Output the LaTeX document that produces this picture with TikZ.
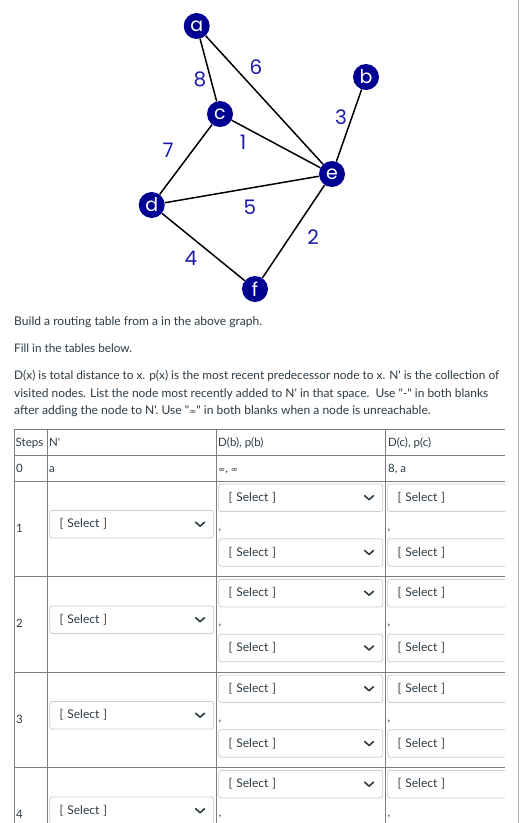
\documentclass[tikz,border=0pt]{standalone}
\usepackage{fontspec}
\setmainfont{Lato}[Ligatures=TeXOff]
\newfontfamily\pop{Poppins}
\newfontfamily\dv{DejaVu Sans}
\definecolor{navy}{RGB}{0,0,145}
\definecolor{lblue}{RGB}{25,25,170}
\definecolor{tgray}{RGB}{125,125,125}
\definecolor{selgray}{RGB}{205,205,205}
\definecolor{txt}{RGB}{45,59,69}
\newsavebox\fitbox
\newcommand\fitto[2]{\sbox\fitbox{\fontsize{10}{12}\selectfont #2}%
  \pgfmathsetmacro\fitfs{10*#1/\the\wd\fitbox}%
  \fontsize{\fitfs}{\fitfs}\selectfont #2}
\newcommand\inft{{\dv\fontsize{8.5}{9}\selectfont ∞}}
\begin{document}
\begin{tikzpicture}[x=1pt,y=-1pt,
  gnode/.style={circle,fill=navy,text=white,minimum size=26pt,inner sep=0pt,font=\pop\fontsize{19}{19}\selectfont},
  wlabel/.style={text=lblue,inner sep=0pt,font=\pop\fontsize{20}{20}\selectfont},
  gedge/.style={line width=1.5pt,black},
  para/.style={anchor=base west,inner sep=0pt,text=txt},
  cell/.style={anchor=base west,inner sep=0pt,text=txt,font=\fontsize{11.5}{13}\selectfont},
  tline/.style={draw=tgray,line width=1pt},
  selbox/.style={draw=selgray,fill=white,rounded corners=2.5pt,line width=0.8pt,minimum height=27.5pt,
    text width=#1,inner xsep=10pt,inner ysep=0pt,align=left,anchor=north west,text=txt,font=\fontsize{12}{13}\selectfont},
  chev/.style={draw=txt,line width=1.6pt,line cap=round,line join=round},
  sideline/.style={draw=gray!60,line width=1.2pt}
]
\useasboundingbox[fill=white] (0,0) rectangle (520,823);

% ---------- graph ----------
\node[gnode] (a) at (196.7,26) {a};
\node[gnode] (b) at (366,77) {b};
\node[gnode] (c) at (220,114) {c};
\node[gnode] (e) at (332,174) {e};
\node[gnode] (d) at (151.7,205) {d};
\node[gnode] (f) at (255,289) {f};
\draw[gedge] (a) -- (c);
\draw[gedge] (a) -- (e);
\draw[gedge] (b) -- (e);
\draw[gedge] (c) -- (e);
\draw[gedge] (c) -- (d);
\draw[gedge] (d) -- (e);
\draw[gedge] (d) -- (f);
\draw[gedge] (f) -- (e);
\node[wlabel] (l8) at (200,79) {8};
\node[wlabel] (l6) at (256,67) {6};
\node[wlabel] (l3) at (341,117) {3};
\node[wlabel] (l1) at (243,142) {1};
\node[wlabel] (l7) at (168,150) {7};
\node[wlabel] (l5) at (250,207) {5};
\node[wlabel] (l4) at (191,258) {4};
\node[wlabel] (l2) at (313,237) {2};

% ---------- text ----------
\node[para] (p1) at (14,325) {\fitto{248}{Build a routing table from a in the above graph.}};
\node[para] (p2) at (14,352) {\fitto{118}{Fill in the tables below.}};
\node[para] (p3) at (14,379.5) {\fitto{485}{D(x) is total distance to x. p(x) is the most recent predecessor node to x. N' is the collection of}};
\node[para] (p4) at (14,397.5) {\fitto{474}{visited nodes. List the node most recently added to N' in that space.\ \ Use "-" in both blanks}};
\node[para] (p5) at (14,414.5) {\fitto{418}{after adding the node to N'. Use "\inft" in both blanks when a node is unreachable.}};

% side border
\draw[sideline] (518.5,0) -- (518.5,823);

% ---------- table grid ----------
\foreach \yy in {429.3,455,481,576.5,672,767.5} {\draw[tline] (14.3,\yy) -- (505,\yy);}
\foreach \xx in {14.3,47.3,216.5,385.7} {\draw[tline] (\xx,429.3) -- (\xx,823);}

\node[cell] (hs) at (15.5,446) {Steps};
\node[cell] (hn) at (49,446) {N'};
\node[cell] (hb) at (218,446) {D(b), p(b)};
\node[cell] (hc) at (388,446) {D(c), p(c)};
\node[cell] (r0s) at (16,472) {0};
\node[cell] (r0n) at (49,472) {a};
\node[cell] (r0b) at (218,472) {\inft, \inft};
\node[cell] (r0c) at (388,472) {8, a};

\foreach \k in {1,...,4} {
  \pgfmathsetmacro{\r}{481+95.5*(\k-1)}
  \node[cell] (st\k) at (16,\r+51) {\k};
  % N' select
  \node[selbox=144pt] (ns\k) at (49.3,\r+29) {[ Select ]};
  \draw[chev] ([xshift=-18.5pt,yshift=2pt]ns\k.east) -- ++(4.5,4) -- ++(4.5,-4);
  % D(b) selects
  \node[selbox=144pt] (bt\k) at (218.3,\r+2.5) {[ Select ]};
  \draw[chev] ([xshift=-18.5pt,yshift=2pt]bt\k.east) -- ++(4.5,4) -- ++(4.5,-4);
  \node[selbox=144pt] (bb\k) at (218.3,\r+57.3) {[ Select ]};
  \draw[chev] ([xshift=-18.5pt,yshift=2pt]bb\k.east) -- ++(4.5,4) -- ++(4.5,-4);
  \node[cell] (bc\k) at (218.5,\r+49) {,};
  \node[cell] (cc\k) at (387.5,\r+49) {,};
  % D(c) selects, clipped at the table's right edge
  \begin{scope}
    \clip (380,\r) rectangle (505,\r+95);
    \node[selbox=144pt] (ct\k) at (387.3,\r+2.5) {[ Select ]};
    \node[selbox=144pt] (cb\k) at (387.3,\r+57.3) {[ Select ]};
  \end{scope}
}
\end{tikzpicture}
\end{document}
